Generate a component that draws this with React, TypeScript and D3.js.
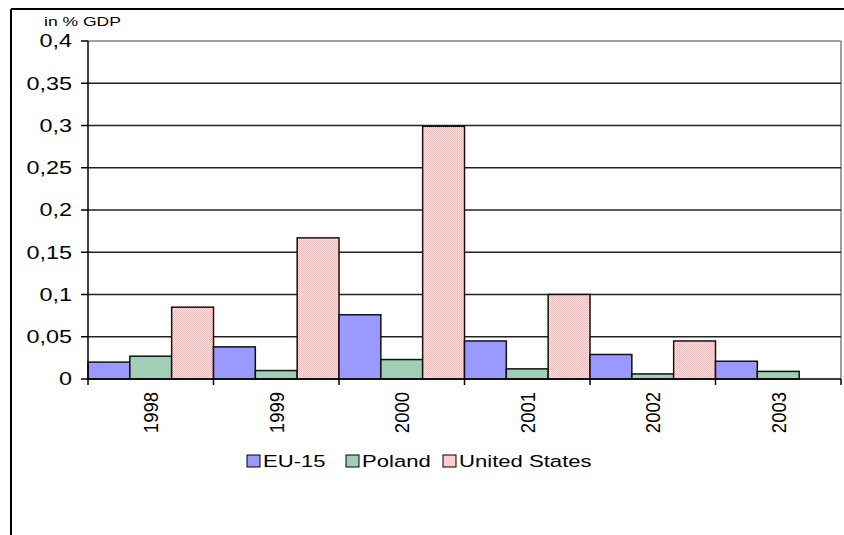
import React from "react";
import * as d3 from "d3";

const years = ["1998", "1999", "2000", "2001", "2002", "2003"];
const seriesNames = ["EU-15", "Poland", "United States"];
const euValues = [0.02, 0.038, 0.076, 0.045, 0.029, 0.021];
const polandValues = [0.027, 0.01, 0.023, 0.012, 0.006, 0.009];
const usValues: (number | null)[] = [0.085, 0.167, 0.299, 0.1, 0.045, null];
const yTicks = [0, 0.05, 0.1, 0.15, 0.2, 0.25, 0.3, 0.35, 0.4];
const yTickLabels = ["0", "0,05", "0,1", "0,15", "0,2", "0,25", "0,3", "0,35", "0,4"];

const W = 844;
const H = 535;
const plot = { left: 88, right: 841, top: 41, bottom: 379 };
const fills = ["#9999FF", "#9FCFB5", "url(#pinkHatch)"];
const legendFills = ["#9999FF", "#9FCFB5", "#FFCCCC"];
const SX = 1.3;

export default function App() {
  const x = d3.scaleBand<string>().domain(years).range([plot.left, plot.right]).paddingInner(0).paddingOuter(0);
  const xs = d3.scaleBand<string>().domain(seriesNames).range([0, x.bandwidth()]).padding(0);
  const y = d3.scaleLinear().domain([0, 0.4]).range([plot.bottom, plot.top]);
  const series = [euValues, polandValues, usValues];
  const font = "Liberation Sans, Arial, sans-serif";
  const legendX = [247, 346, 443];

  return (
    <svg width={W} height={H} style={{ position: "absolute", left: 0, top: 0 }} fontFamily={font}>
      <defs>
        <pattern id="pinkHatch" width="2" height="2" patternUnits="userSpaceOnUse">
          <rect width="2" height="2" fill="#FFFFFF" />
          <rect width="1" height="1" fill="#FFB0B0" />
          <rect x="1" y="1" width="1" height="1" fill="#FFB0B0" />
        </pattern>
      </defs>
      <rect x={0} y={0} width={W} height={H} fill="#fff" />
      {/* outer frame */}
      <line x1={11} y1={9} x2={W} y2={9} stroke="#000" strokeWidth={2} />
      <line x1={11} y1={9} x2={11} y2={H} stroke="#000" strokeWidth={2} />

      {/* plot border */}
      <line x1={plot.left} y1={plot.top} x2={plot.right} y2={plot.top} stroke="#808080" strokeWidth={1.5} />
      <line x1={plot.right} y1={plot.top} x2={plot.right} y2={plot.bottom} stroke="#808080" strokeWidth={1.5} />

      {/* gridlines */}
      {yTicks.slice(1, -1).map((t) => (
        <line key={t} x1={plot.left} x2={plot.right} y1={y(t)} y2={y(t)} stroke="#222" strokeWidth={1.5} />
      ))}

      {/* bars */}
      {years.map((yr, i) => (
        <g key={yr}>
          {series.map((s, j) => {
            const v = s[i];
            if (v == null) return null;
            const bx = (x(yr) as number) + (xs(seriesNames[j]) as number);
            return (
              <rect
                key={j}
                x={bx}
                y={y(v)}
                width={xs.bandwidth()}
                height={y(0) - y(v)}
                fill={fills[j]}
                stroke="#111"
                strokeWidth={1.5}
              />
            );
          })}
        </g>
      ))}

      {/* y axis */}
      <line x1={plot.left} y1={plot.top} x2={plot.left} y2={plot.bottom} stroke="#000" strokeWidth={1.5} />
      {yTicks.map((t, i) => (
        <g key={t}>
          <line x1={plot.left - 7} x2={plot.left} y1={y(t)} y2={y(t)} stroke="#000" strokeWidth={1.5} />
          <text
            transform={`translate(72,${y(t)}) scale(${SX},1)`}
            dy="0.36em"
            textAnchor="end"
            fontSize={18}
            fill="#000"
          >
            {yTickLabels[i]}
          </text>
        </g>
      ))}
      <text transform={`translate(44,26) scale(${SX},1)`} fontSize={13.5} fill="#000">in % GDP</text>

      {/* x axis */}
      <line x1={plot.left} y1={plot.bottom} x2={plot.right} y2={plot.bottom} stroke="#000" strokeWidth={1.5} />
      {[...years.map((yr) => x(yr) as number), plot.right].map((px, i) => (
        <line key={i} x1={px} x2={px} y1={plot.bottom} y2={plot.bottom + 6} stroke="#000" strokeWidth={1.5} />
      ))}
      {years.map((yr) => {
        const cx = (x(yr) as number) + x.bandwidth() / 2;
        return (
          <text
            key={yr}
            transform={`translate(${cx},392) scale(1.12,1) rotate(-90)`}
            textAnchor="end"
            dy="0.36em"
            fontSize={18.5}
            fill="#000"
          >
            {yr}
          </text>
        );
      })}

      {/* legend */}
      {seriesNames.map((n, i) => (
        <g key={n} transform={`translate(${legendX[i]},461)`}>
          <rect x={0} y={-6} width={13} height={12} fill={legendFills[i]} stroke="#000" strokeWidth={1} />
          <text transform={`translate(16,0) scale(${SX},1)`} dy="0.36em" fontSize={17} fill="#000">{n}</text>
        </g>
      ))}
    </svg>
  );
}
